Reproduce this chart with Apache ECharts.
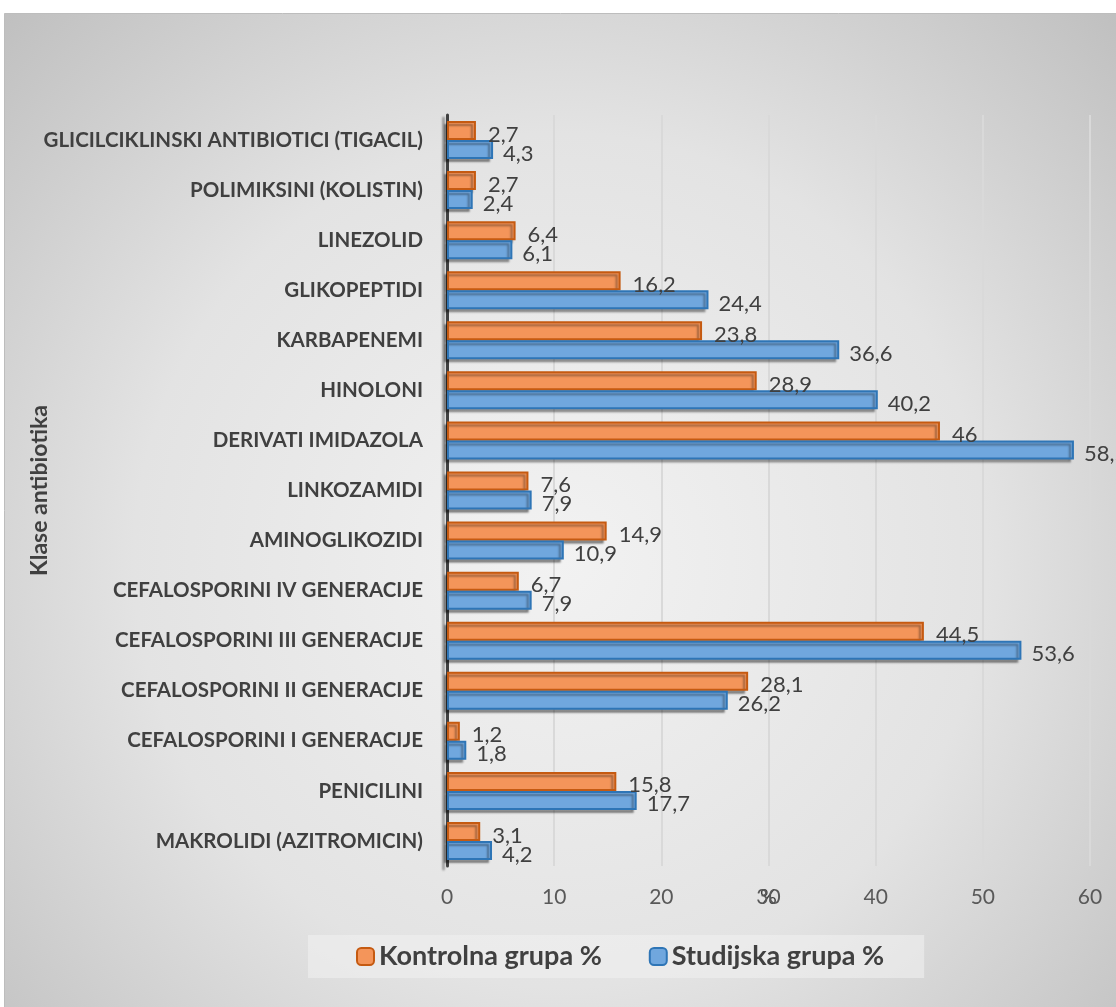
<!DOCTYPE html>
<html><head><meta charset="utf-8">
<script src="https://cdn.jsdelivr.net/npm/echarts@6/dist/echarts.min.js"></script>
<style>html,body{margin:0;padding:0;background:#fff}#c{width:1116px;height:1007px}</style>
</head><body><div id="c"></div>
<script>
const categories = ["MAKROLIDI (AZITROMICIN)","PENICILINI","CEFALOSPORINI I GENERACIJE","CEFALOSPORINI II GENERACIJE","CEFALOSPORINI III GENERACIJE","CEFALOSPORINI IV GENERACIJE","AMINOGLIKOZIDI","LINKOZAMIDI","DERIVATI IMIDAZOLA","HINOLONI","KARBAPENEMI","GLIKOPEPTIDI","LINEZOLID","POLIMIKSINI (KOLISTIN)","GLICILCIKLINSKI ANTIBIOTICI (TIGACIL)"];
const kontrolna = [3.1,15.8,1.2,28.1,44.5,6.7,14.9,7.6,46,28.9,23.8,16.2,6.4,2.7,2.7];
const studijska = [4.2,17.7,1.8,26.2,53.6,7.9,10.9,7.9,58.5,40.2,36.6,24.4,6.1,2.4,4.3];
const seriesNames = ["Kontrolna grupa %","Studijska grupa %"];
const xTicks = [0,10,20,30,40,50,60];

const chart = echarts.init(document.getElementById('c'));
const fmt = p => String(p.value).replace('.', ',');
const font = 'Lato, "Open Sans", sans-serif';
function mkSeries(name, data, fill, border, dist){
  return {
    name, type:'bar', data, barWidth:19, barGap:'0%',
    itemStyle:{color:fill, borderColor:border, borderWidth:2,
      shadowColor:'rgba(0,0,0,0.35)', shadowBlur:2, shadowOffsetX:-3, shadowOffsetY:3},
    label:{show:true, position:'right', distance:dist, formatter:fmt,
      fontFamily:font, fontSize:22, color:'#404040', offset:[0,4]}
  };
}
chart.setOption({
  backgroundColor:'#ffffff',
  animation:false,
  graphic:[{type:'rect', left:4, top:13, z:-10, silent:true,
    shape:{width:1112, height:994},
    style:{stroke:'#bdbdbd', lineWidth:1,
      fill:new echarts.graphic.RadialGradient(0.5,0.55,0.78,[
        {offset:0,color:'#f2f2f2'},{offset:0.55,color:'#e3e3e3'},{offset:1,color:'#c0c0c0'}])}}],
  grid:{left:447, top:115, width:643, height:751, containLabel:false},
  legend:{
    data:seriesNames, left:308, top:935, width:617, height:45,
    backgroundColor:'rgba(240,240,240,0.6)', padding:[8,40,8,48],
    itemWidth:17, itemHeight:17, itemGap:47,
    textStyle:{fontFamily:font, fontSize:27, fontWeight:'bold', color:'#404040'}
  },
  xAxis:{type:'value', min:0, max:60, interval:10,
    name:'%', nameLocation:'middle', nameGap:21, nameMoveOverlap:false,
    nameTextStyle:{fontFamily:font, fontSize:21, color:'#404040', verticalAlign:'top'},
    axisLine:{show:false}, axisTick:{show:false},
    axisLabel:{margin:21, fontFamily:font, fontSize:21, color:'#595959',
      formatter:v=> xTicks.includes(v)? String(v):''},
    splitLine:{show:true, lineStyle:{color:'#d9d9d9', width:2}}
  },
  yAxis:{type:'category', data:categories,
    name:'Klase antibiotika', nameLocation:'middle', nameGap:396, nameRotate:90, nameMoveOverlap:false,
    nameTextStyle:{fontFamily:font, fontSize:23, fontWeight:'bold', color:'#404040'},
    axisLine:{show:true, lineStyle:{color:'#404040', width:3,
      shadowColor:'rgba(0,0,0,0.3)', shadowOffsetX:-4, shadowOffsetY:3, shadowBlur:2}},
    axisTick:{show:false},
    axisLabel:{margin:24, fontFamily:font, fontSize:20.5, fontWeight:'bold', color:'#404040'}
  },
  series:[
    mkSeries(seriesNames[0], kontrolna, '#f4955a', '#c55a11', 12),
    mkSeries(seriesNames[1], studijska, '#70a7de', '#2e75b6', 10)
  ]
});
</script></body></html>
